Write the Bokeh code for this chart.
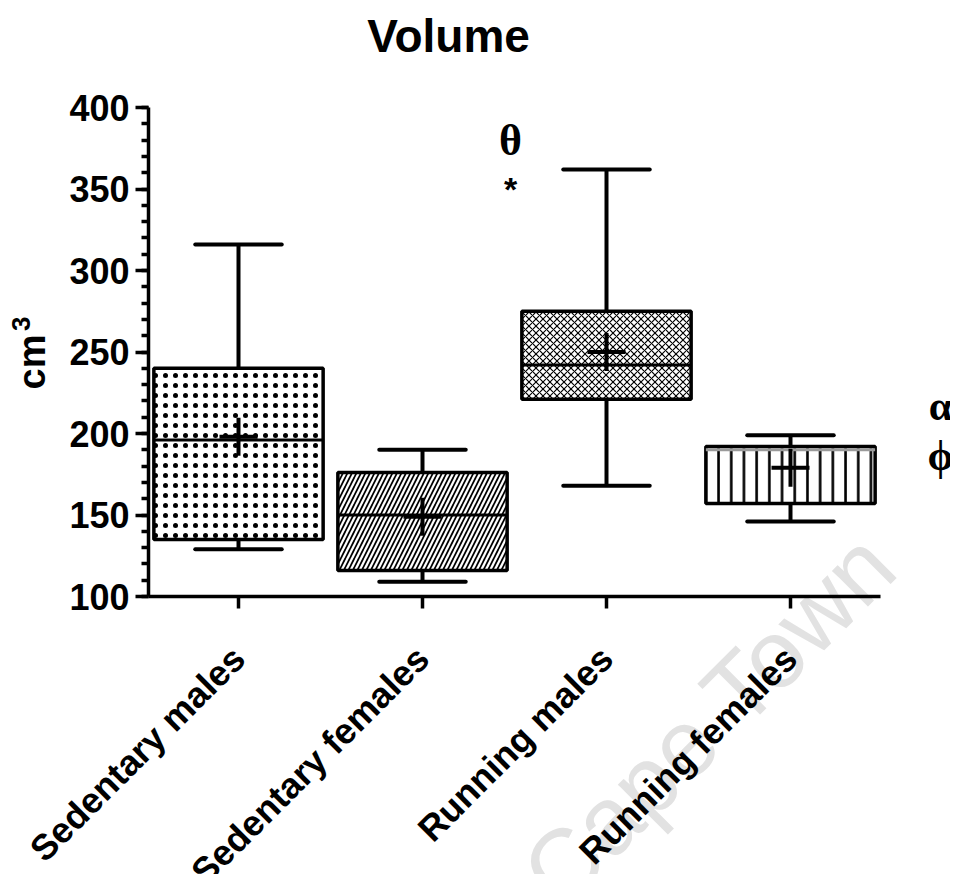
import math
from bokeh.plotting import figure
from bokeh.models import (ColumnDataSource, Label, Range1d, LinearAxis, FixedTicker,
                          SingleIntervalTicker)
from bokeh.embed import file_html
from bokeh.resources import INLINE

# ---- data ----
groups = ["Sedentary males", "Sedentary females", "Running males", "Running females"]
whisker_low = [129, 109, 168, 146]
q1 = [135, 116, 221, 157]
median = [196, 150, 242, 190]
q3 = [240, 176, 275, 192]
whisker_high = [316, 190, 362, 199]
mean = [198, 149, 250, 179]
y_min, y_max = 100, 400

# ---- styles ----
hatches = [
    dict(hatch_pattern="dot", hatch_scale=10.0, hatch_weight=0.7),
    dict(hatch_pattern="right_diagonal_line", hatch_scale=9, hatch_weight=1.7),
    dict(hatch_pattern="diagonal_cross", hatch_scale=7, hatch_weight=1.2),
    dict(hatch_pattern="vertical_line", hatch_scale=12.7, hatch_weight=2.6),
]
median_colors = ["black", "black", "black", "#9a9a9a"]
FONT = "Liberation Sans"
SERIF = "Liberation Serif"

# ---- layout (canvas pixels) ----
W, H = 950, 874
PX_PER_CAT = 184.0
FIRST_CAT_PX = 238.0
PX_PER_UNIT_Y = 1.63
Y100_PX = 596.0

xpos = [i + 1 for i in range(len(groups))]
x_start = 1 - FIRST_CAT_PX / PX_PER_CAT
x_end = 1 + (W - FIRST_CAT_PX) / PX_PER_CAT
y_start = y_min - (H - Y100_PX) / PX_PER_UNIT_Y
y_end = y_min + Y100_PX / PX_PER_UNIT_Y


def X(px):
    return 1 + (px - FIRST_CAT_PX) / PX_PER_CAT


def Y(py):
    return y_min + (Y100_PX - py) / PX_PER_UNIT_Y


box_w = 0.92
cap_half = 0.235
med_half = box_w / 2

src = ColumnDataSource(dict(
    x=xpos, lo=whisker_low, q1=q1, med=median, q3=q3, hi=whisker_high, mean=mean,
    mc=median_colors,
    cl=[v - cap_half for v in xpos], cr=[v + cap_half for v in xpos],
    ml=[v - med_half for v in xpos], mr=[v + med_half for v in xpos]))

p = figure(width=W, height=H, x_range=Range1d(x_start, x_end), y_range=Range1d(y_start, y_end),
           x_axis_type=None, y_axis_type=None, output_backend="svg", toolbar_location=None,
           min_border=0, min_border_left=0, min_border_right=0, min_border_top=0,
           min_border_bottom=0)
p.outline_line_color = None
p.grid.visible = False
p.background_fill_color = "white"
p.border_fill_color = "white"

# watermark
p.add_layout(Label(x=X(878), y=Y(548), text="University of Cape Town", angle=math.radians(45),
                   text_align="right", text_baseline="alphabetic", text_font=FONT,
                   text_font_size="96px", text_color="#e2e2e2", level="underlay"))

# boxes
for i, h in enumerate(hatches):
    sub = ColumnDataSource(dict(x=[xpos[i]], q1=[q1[i]], q3=[q3[i]]))
    p.vbar(x="x", bottom="q1", top="q3", width=box_w, source=sub, fill_color="white",
           line_color="black", line_width=3.5, hatch_color="black", hatch_alpha=1.0, **h)

# whisker stems
p.segment(x0="x", x1="x", y0="q3", y1="hi", source=src, line_color="black", line_width=4)
p.segment(x0="x", x1="x", y0="lo", y1="q1", source=src, line_color="black", line_width=4)
# caps
p.segment(x0="cl", x1="cr", y0="hi", y1="hi", source=src, line_color="black", line_width=4,
          line_cap="round")
p.segment(x0="cl", x1="cr", y0="lo", y1="lo", source=src, line_color="black", line_width=4,
          line_cap="round")
# medians
p.segment(x0="ml", x1="mr", y0="med", y1="med", source=src, line_color="mc", line_width=3)
# means
p.scatter(x="x", y="mean", source=src, marker="cross", size=38, line_color="black",
          line_width=4)

# axes at fixed locations
x_lo_b = X(148)
x_hi_b = X(880)
yaxis = LinearAxis(fixed_location=x_lo_b, bounds=(y_min, y_max),
                   ticker=SingleIntervalTicker(interval=50, num_minor_ticks=5))
xaxis = LinearAxis(fixed_location=y_min, bounds=(x_lo_b, x_hi_b),
                   ticker=FixedTicker(ticks=xpos),
                   major_label_overrides={v: g for v, g in zip(xpos, groups)})
for ax in (xaxis, yaxis):
    ax.axis_line_width = 3.5
    ax.major_tick_line_width = 3.5
    ax.major_tick_in = 0
    ax.major_label_text_font = FONT
    ax.major_label_text_font_style = "bold"
    ax.major_label_text_font_size = "36px"
    ax.major_label_text_color = "black"
yaxis.major_tick_out = 13
yaxis.minor_tick_out = 7
yaxis.minor_tick_in = 0
yaxis.minor_tick_line_width = 3.5
yaxis.major_label_standoff = 6
xaxis.major_tick_out = 12
xaxis.minor_tick_line_color = None
xaxis.major_label_orientation = math.pi / 4
xaxis.major_label_standoff = 44
p.add_layout(yaxis, "left")
p.add_layout(xaxis, "below")

# title, axis label and annotations
common = dict(text_align="center", text_baseline="middle", text_color="black")
p.add_layout(Label(x=X(448), y=Y(35), text="Volume", text_font=FONT, text_font_style="bold",
                   text_font_size="46px", **common))
# y axis label "cm" with a raised "3"
p.add_layout(Label(x=X(31), y=Y(334), text="cm", angle=math.pi / 2, text_align="right",
                   text_baseline="alphabetic", text_color="black", text_font=FONT,
                   text_font_style="bold", text_font_size="38px"))
p.add_layout(Label(x=X(20), y=Y(316), text="3", angle=math.pi / 2, text_align="right",
                   text_baseline="alphabetic", text_color="black", text_font=FONT,
                   text_font_style="bold", text_font_size="26px"))
p.add_layout(Label(x=X(510), y=Y(140), text="θ", text_font=SERIF, text_font_style="bold",
                   text_font_size="44px", **common))
p.add_layout(Label(x=X(510), y=Y(188), text="*", text_font=FONT, text_font_style="bold",
                   text_font_size="34px", **common))
p.add_layout(Label(x=X(940), y=Y(405), text="α", text_font=SERIF, text_font_style="bold",
                   text_font_size="42px", **common))
p.add_layout(Label(x=X(940), y=Y(455), text="ϕ", text_font=SERIF, text_font_style="bold",
                   text_font_size="42px", **common))

open("out.html", "w").write(file_html(p, INLINE))
